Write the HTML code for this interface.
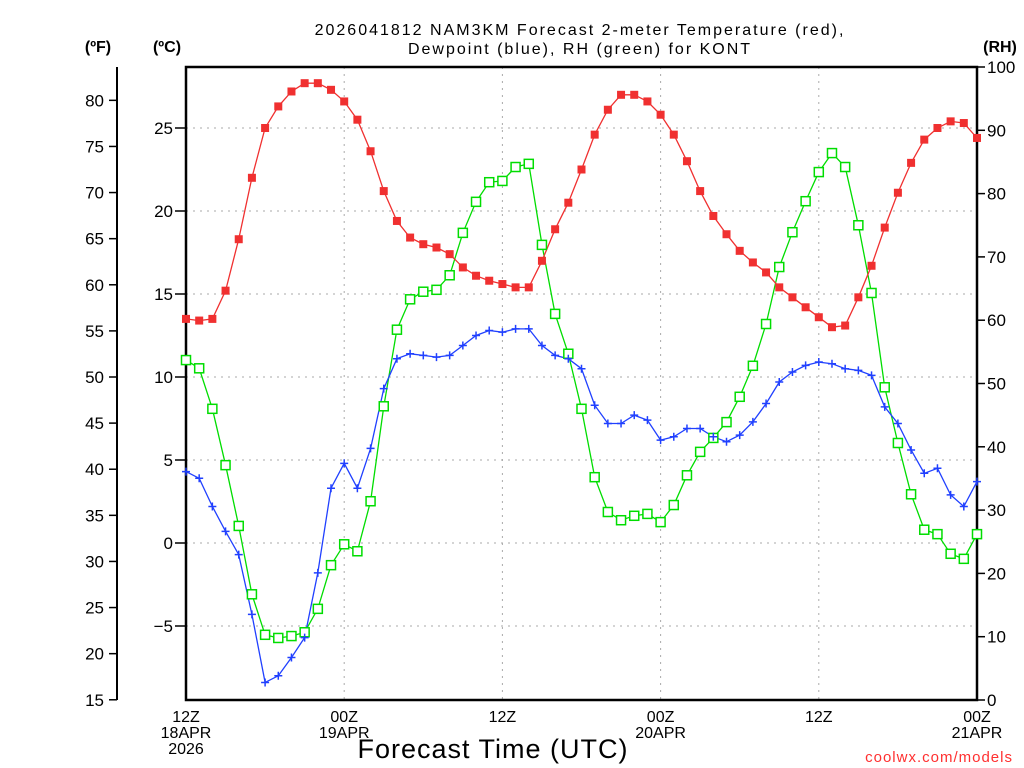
<!DOCTYPE html>
<html><head><meta charset="utf-8"><style>
html,body{margin:0;padding:0;background:#fff;width:1024px;height:768px;overflow:hidden}
svg{display:block;font-family:"Liberation Sans",sans-serif}
</style></head><body>
<svg id="chart" width="1024" height="768">
<text x="580" y="35" text-anchor="middle" font-size="16" letter-spacing="2">2026041812 NAM3KM Forecast 2-meter Temperature (red),</text>
<text x="580" y="54" text-anchor="middle" font-size="16" letter-spacing="2">Dewpoint (blue), RH (green) for KONT</text>
<text x="98" y="52" text-anchor="middle" font-size="16" font-weight="bold">(ºF)</text>
<text x="167" y="52" text-anchor="middle" font-size="16" font-weight="bold">(ºC)</text>
<text x="1000" y="52" text-anchor="middle" font-size="16" font-weight="bold">(RH)</text>
<text x="493" y="758" text-anchor="middle" font-size="27" letter-spacing="1">Forecast Time (UTC)</text>
<text x="1013" y="762" text-anchor="end" font-size="15" fill="#ff3030" letter-spacing="1">coolwx.com/models</text>
<g id="grid"></g><g id="axes"></g><g id="series"></g>
</svg>
<script>
const hours = Array.from({length:61},(_,i)=>i);
const tempC = [13.5,13.4,13.5,15.2,18.3,22.0,25.0,26.3,27.2,27.7,27.7,27.3,26.6,25.5,23.6,21.2,19.4,18.4,18.0,17.8,17.4,16.6,16.1,15.8,15.6,15.4,15.4,17.0,18.9,20.5,22.5,24.6,26.1,27.0,27.0,26.6,25.8,24.6,23.0,21.2,19.7,18.6,17.6,16.9,16.3,15.4,14.8,14.2,13.6,13.0,13.1,14.8,16.7,19.0,21.1,22.9,24.3,25.0,25.4,25.3,24.4];
const dewC = [4.3,3.9,2.2,0.7,-0.7,-4.3,-8.4,-8.0,-6.9,-5.7,-1.8,3.3,4.8,3.3,5.7,9.3,11.1,11.4,11.3,11.2,11.3,11.9,12.5,12.8,12.7,12.9,12.9,11.9,11.3,11.1,10.5,8.3,7.2,7.2,7.7,7.4,6.2,6.4,6.9,6.9,6.4,6.1,6.5,7.3,8.4,9.7,10.3,10.7,10.9,10.8,10.5,10.4,10.1,8.2,7.2,5.6,4.2,4.5,2.9,2.2,3.7];
const rh = [53.7,52.4,46.0,37.1,27.5,16.7,10.3,9.8,10.1,10.7,14.4,21.3,24.6,23.5,31.4,46.4,58.5,63.3,64.5,64.8,67.1,73.8,78.7,81.8,82.0,84.2,84.7,71.9,61.0,54.7,46.0,35.2,29.7,28.4,29.1,29.4,28.1,30.8,35.5,39.2,41.4,43.9,47.9,52.8,59.4,68.4,73.9,78.8,83.4,86.4,84.2,75.0,64.3,49.4,40.6,32.5,26.9,26.2,23.1,22.3,26.2];
const cTicks = [25,20,15,10,5,0,-5];
const fTicks = [80,75,70,65,60,55,50,45,40,35,30,25,20,15];
const rhTicks = [0,10,20,30,40,50,60,70,80,90,100];
const xTickHours = [0,12,24,36,48,60];
const xTickLabels = [["12Z","18APR","2026"],["00Z","19APR"],["12Z",""],["00Z","20APR"],["12Z",""],["00Z","21APR"]];

const L=186,R=977,T=67,B=700;
const X=h=>L+(R-L)*h/60;
const YC=c=>543-16.6*c;
const YF=f=>YC((f-32)/1.8);
const YR=r=>B-(B-T)*r/100;
const NS="http://www.w3.org/2000/svg";
function mk(tag,attrs,parent,text){const e=document.createElementNS(NS,tag);for(const k in attrs)e.setAttribute(k,attrs[k]);if(text!==undefined)e.textContent=text;parent.appendChild(e);return e;}
const grid=document.getElementById('grid'),axes=document.getElementById('axes'),ser=document.getElementById('series');

cTicks.forEach(c=>{const y=YC(c);
 const g=mk('line',{x1:L,x2:R,y1:y,y2:y,stroke:'#aaa','stroke-dasharray':'2,5'},grid);
 
 
 mk('line',{x1:L-11,x2:L,y1:y,y2:y,stroke:'#000','stroke-width':1.5},axes);
 const t=mk('text',{x:L-13,y:y+6,'text-anchor':'end','font-size':17},axes,c<0?'\u2212'+(-c):String(c));
 
 
});
xTickHours.forEach((h,i)=>{const x=X(h);
 if(i>0&&i<5){const g=mk('line',{x1:x,x2:x,y1:T,y2:B,stroke:'#aaa','stroke-dasharray':'2,5'},grid);
 
 }
 xTickLabels[i].forEach((s,j)=>{const t=mk('text',{x:x,y:722+j*16,'text-anchor':'middle','font-size':16},axes,s);
 
 });
});
fTicks.forEach(f=>{const y=YF(f);
 mk('line',{x1:109,x2:117,y1:y,y2:y,stroke:'#000','stroke-width':1.5},axes);
 const t=mk('text',{x:104,y:y+6,'text-anchor':'end','font-size':17},axes,String(f));
 
 
});
rhTicks.forEach(r=>{const y=YR(r);
 mk('line',{x1:R,x2:R+8,y1:y,y2:y,stroke:'#000','stroke-width':1.5},axes);
 const t=mk('text',{x:R+10,y:y+6,'font-size':17},axes,String(r));
 
 
});
mk('line',{x1:117,x2:117,y1:67,y2:700,stroke:'#000','stroke-width':2},axes);
const fr=mk('rect',{x:L,y:T,width:R-L,height:B-T,fill:'none',stroke:'#000','stroke-width':2.5},axes);



function line(vals,yf,color,name){
 const pts=vals.map((v,i)=>X(hours[i]).toFixed(1)+','+yf(v).toFixed(1)).join(' ');
 const p=mk('polyline',{points:pts,fill:'none',stroke:color,'stroke-width':1.3},ser);
 
 
}
line(rh,YR,'#00dd00','rh-line');
line(dewC,YC,'#2040ff','dewpoint-line');
line(tempC,YC,'#f03030','temperature-line');
rh.forEach((v,i)=>{const m=mk('rect',{x:X(hours[i])-4.5,y:YR(v)-4.5,width:9,height:9,fill:'#fff',stroke:'#00dd00','stroke-width':1.5},ser);
 
 });
dewC.forEach((v,i)=>{const x=X(hours[i]),y=YC(v);
 const m=mk('path',{d:`M${x-4},${y}H${x+4}M${x},${y-4}V${y+4}`,stroke:'#2040ff','stroke-width':1.5},ser);
 
 });
tempC.forEach((v,i)=>{const m=mk('rect',{x:X(hours[i])-4,y:YC(v)-4,width:8,height:8,fill:'#f03030'},ser);
 
 });
</script>
</body></html>
